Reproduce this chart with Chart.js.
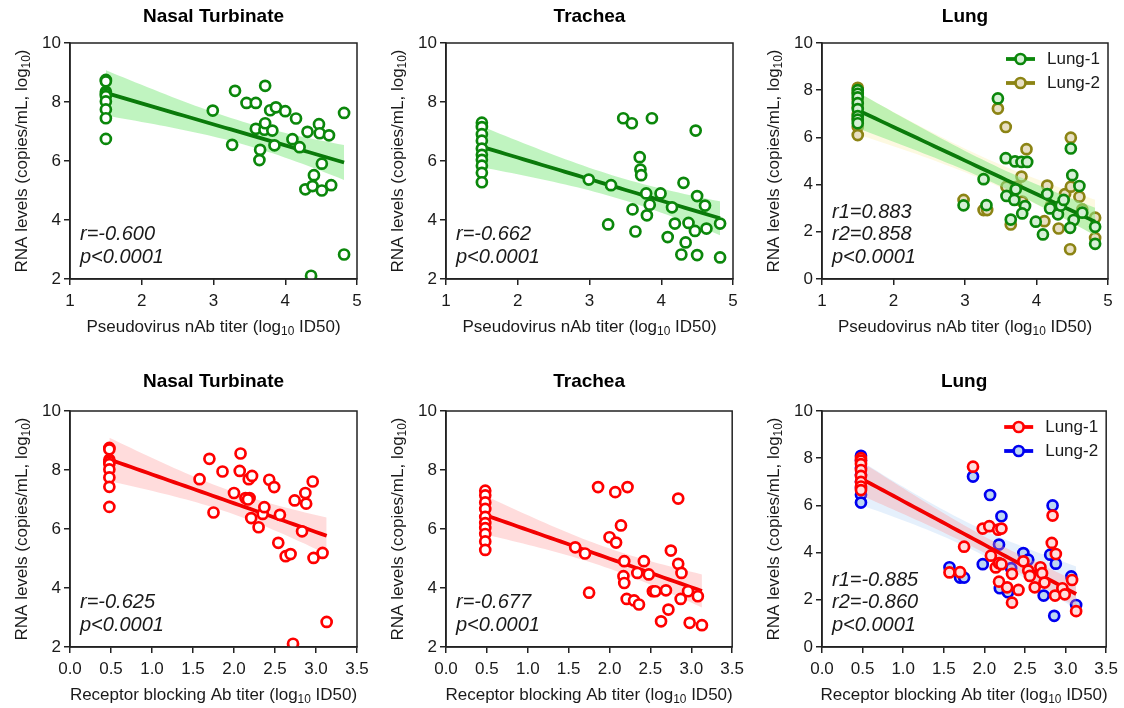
<!DOCTYPE html>
<html>
<head>
<meta charset="utf-8">
<script src="https://cdn.jsdelivr.net/npm/chart.js@4.4.1/dist/chart.umd.min.js"></script>
<style>
  html, body { margin: 0; padding: 0; background: #fff; }
  #wrap { position: relative; width: 1124px; height: 708px; overflow: hidden; }
  #wrap canvas { position: absolute; }
</style>
</head>
<body>
<div id="wrap"></div>
<script>
// ---- data ----
// top row: pseudovirus nAb titer (log10 ID50)
const ntNabX = [1.5, 1.5, 1.5, 1.5, 1.5, 1.5, 1.5, 1.5, 1.5,
    2.99, 3.26, 3.30, 3.46, 3.59, 3.72, 3.59, 3.71, 3.72, 3.82, 3.79, 3.87, 4.00, 3.65, 3.64, 3.85,
    4.15, 4.10, 4.20, 4.31, 4.47, 4.48, 4.61, 4.82, 4.51, 4.40, 4.28, 4.38, 4.51, 4.64, 4.82, 4.36];
const ntNabY = [8.75, 8.70, 8.35, 8.28, 8.20, 8.02, 7.75, 7.45, 6.75,
    7.71, 6.55, 8.38, 7.97, 7.97, 8.55, 7.09, 7.06, 7.28, 7.03, 7.72, 7.82, 7.69, 6.38, 6.03, 6.53,
    7.44, 6.74, 6.47, 6.99, 7.25, 6.94, 6.87, 7.63, 5.91, 5.52, 5.04, 5.15, 5.00, 5.18, 2.83, 2.11];

const trNabX = [1.5, 1.5, 1.5, 1.5, 1.5, 1.5, 1.5, 1.5, 1.5, 1.5,
    2.99, 3.30, 3.47, 3.59, 3.87, 4.48, 3.70, 3.71, 3.72, 3.79, 3.99, 3.84, 3.80, 3.60, 3.26,
    3.64, 4.15, 4.31, 4.50, 4.61, 4.19, 4.38, 4.47, 4.63, 4.82, 4.09, 4.34, 4.28, 4.50, 4.82];
const trNabY = [7.30, 7.15, 6.91, 6.69, 6.42, 6.21, 6.04, 5.84, 5.60, 5.28,
    5.37, 5.18, 7.45, 7.28, 7.45, 7.03, 6.13, 5.71, 5.52, 4.90, 4.90, 4.52, 4.16, 4.36, 3.85,
    3.61, 4.43, 5.26, 4.81, 4.49, 3.88, 3.90, 3.63, 3.71, 3.88, 3.42, 3.24, 2.83, 2.81, 2.73];

const lung1NabX = [1.5, 1.5, 1.5, 1.5, 1.5, 1.5, 1.5, 1.5,
    3.46, 3.57, 3.70, 3.79, 3.87, 4.48, 3.26, 2.98, 3.30, 3.58, 3.71, 3.69, 3.84, 3.80, 3.64,
    3.99, 4.09, 4.15, 4.19, 4.30, 4.34, 4.38, 4.50, 4.60, 4.64, 4.52, 4.47, 4.82, 4.82];
const lung1NabY = [8.00, 7.85, 7.70, 7.45, 7.20, 6.90, 6.75, 6.60,
    7.65, 5.12, 4.98, 4.96, 4.96, 5.53, 4.23, 3.12, 3.13, 3.52, 3.80, 3.35, 3.09, 2.78, 2.52,
    2.43, 1.89, 3.60, 2.99, 2.74, 3.11, 3.35, 4.40, 3.94, 2.81, 2.50, 2.17, 2.21, 1.49];

const lung2NabX = [1.5, 1.5, 1.5, 1.5, 1.5, 1.5, 1.5, 1.5,
    3.46, 3.57, 3.86, 4.48, 2.98, 3.26, 3.31, 3.79, 3.58, 3.64, 3.80, 3.72, 4.15, 4.11,
    4.40, 4.48, 4.60, 4.31, 4.47, 4.64, 4.82, 4.82, 4.20];
const lung2NabY = [8.10, 7.90, 7.60, 7.30, 7.00, 6.80, 6.45, 6.10,
    7.22, 6.44, 5.50, 5.99, 3.35, 2.92, 2.92, 4.34, 3.91, 2.31, 3.28, 3.90, 3.96, 2.45,
    3.60, 3.91, 3.49, 2.14, 1.26, 2.95, 2.60, 1.74, 3.10];

// bottom row: receptor blocking Ab titer (log10 ID50)
const ntRbX = [0.48, 0.48, 0.48, 0.48, 0.48, 0.48, 0.48, 0.48, 0.48,
    1.58, 1.70, 1.75, 1.86, 2.00, 2.08, 2.07, 2.18, 2.22, 2.14, 2.19, 2.17, 2.21, 2.30, 2.35, 2.37,
    2.43, 2.49, 2.56, 2.54, 2.63, 2.69, 2.74, 2.87, 2.88, 2.83, 2.96, 2.97, 3.08, 3.13, 2.72];
const ntRbY = [8.75, 8.70, 8.35, 8.28, 8.20, 8.02, 7.75, 7.43, 6.75,
    7.69, 8.38, 6.56, 7.95, 7.22, 8.56, 7.97, 7.69, 7.80, 7.05, 7.05, 7.00, 6.37, 6.06, 6.51, 6.74,
    7.67, 7.42, 6.48, 5.53, 5.08, 5.15, 6.97, 7.22, 6.86, 5.92, 7.61, 5.02, 5.19, 2.85, 2.11];

const trRbX = [0.48, 0.48, 0.48, 0.48, 0.48, 0.48, 0.48, 0.48, 0.48, 0.48,
    1.58, 1.70, 1.75, 1.86, 2.07, 2.22, 2.00, 2.08, 2.14, 2.18, 2.17, 2.18, 2.21, 2.30, 2.36, 2.34,
    2.42, 2.48, 2.53, 2.56, 2.63, 2.69, 2.72, 2.75, 2.84, 2.84, 2.88, 2.87, 2.96, 3.08, 2.98, 3.13];
const trRbY = [7.30, 7.14, 6.90, 6.68, 6.41, 6.20, 6.03, 5.83, 5.58, 5.29,
    5.38, 5.17, 3.84, 7.42, 7.25, 7.42, 5.72, 5.54, 6.12, 4.91, 4.40, 4.17, 3.63, 3.58, 3.44, 4.51,
    4.91, 4.46, 3.89, 3.89, 2.87, 3.92, 3.27, 5.27, 7.03, 4.82, 4.51, 3.63, 3.89, 3.72, 2.82, 2.74];

const lung1RbX = [0.48, 0.48, 0.48, 0.48, 0.48, 0.48, 0.48, 0.48,
    1.86, 1.75, 1.57, 1.70, 1.98, 2.06, 2.17, 2.21, 2.08, 2.14, 2.18, 2.21, 2.18, 2.28, 2.34, 2.34,
    2.42, 2.48, 2.54, 2.56, 2.62, 2.69, 2.71, 2.74, 2.84, 2.83, 2.88, 2.87, 2.96, 3.08, 3.13, 2.99];
const lung1RbY = [8.00, 7.90, 7.75, 7.50, 7.25, 7.00, 6.80, 6.65,
    7.64, 4.25, 3.16, 3.17, 5.02, 5.12, 4.97, 5.02, 3.87, 3.37, 3.55, 3.51, 2.77, 2.53, 3.10, 1.88,
    2.42, 3.63, 3.24, 3.01, 2.53, 3.38, 3.13, 2.73, 5.57, 4.41, 3.94, 2.18, 2.49, 2.84, 1.52, 2.23];

const lung2RbX = [0.48, 0.48, 0.48, 0.48, 0.48, 0.48, 0.48, 0.48,
    1.86, 2.07, 2.21, 2.84, 1.57, 1.70, 1.75, 1.98, 2.18, 2.19, 2.29, 2.33,
    2.48, 2.54, 2.73, 2.81, 2.88, 2.86, 3.07, 3.13];
const lung2RbY = [8.10, 7.90, 7.60, 7.30, 7.00, 6.75, 6.45, 6.12,
    7.22, 6.44, 5.54, 6.00, 3.38, 2.94, 2.94, 3.51, 4.34, 2.49, 2.32, 3.34,
    3.98, 3.70, 2.18, 3.91, 3.53, 1.32, 2.99, 1.78];

const panelTitles = ['Nasal Turbinate', 'Trachea', 'Lung'];
const statsText = [
    ['r=-0.600', 'p<0.0001'],
    ['r=-0.662', 'p<0.0001'],
    ['r1=0.883', 'r2=0.858', 'p<0.0001'],
    ['r=-0.625', 'p<0.0001'],
    ['r=-0.677', 'p<0.0001'],
    ['r1=-0.885', 'r2=-0.860', 'p<0.0001'],
];
const topXTitle = 'Pseudovirus nAb titer (log_10_ ID50)';
const bottomXTitle = 'Receptor blocking Ab titer (log_10_ ID50)';
const yTitle = 'RNA levels (copies/mL, log_10_)';

// ---- styles ----
const FONT = '"Liberation Sans", Arial, Helvetica, sans-serif';
const TEXT = '#1a1a1a';
const GREEN = {stroke: '#0b870b', fill: '#ffffff', line: '#0a7a0a', band: 'rgba(140,235,140,0.55)'};
const GREEN_L = {stroke: '#0b870b', fill: '#d6f0d6', line: '#0a7a0a', band: 'rgba(140,235,140,0.55)'};
const OLIVE = {stroke: '#8c8414', fill: '#e8e0c4', line: null, band: 'rgba(250,238,170,0.35)'};
const RED = {stroke: '#ff0000', fill: '#ffffff', line: '#f20000', band: 'rgba(255,150,150,0.33)'};
const RED_L = {stroke: '#ff0000', fill: '#ffdede', line: '#f20000', band: 'rgba(255,150,150,0.33)'};
const BLUE = {stroke: '#0000f0', fill: '#bcd6f2', line: null, band: 'rgba(170,205,245,0.3)'};

function tCrit(df) {
    return 1.96 + 2.37 / df + 2.8 / (df * df);
}

// least squares fit with 95% confidence band of the mean
function regression(xs, ys) {
    const n = xs.length;
    const mx = xs.reduce((s, v) => s + v, 0) / n;
    const my = ys.reduce((s, v) => s + v, 0) / n;
    let sxx = 0, sxy = 0;
    for (let i = 0; i < n; i++) {
        sxx += (xs[i] - mx) ** 2;
        sxy += (xs[i] - mx) * (ys[i] - my);
    }
    const b = sxy / sxx, a = my - b * mx;
    let sse = 0;
    for (let i = 0; i < n; i++) sse += (ys[i] - a - b * xs[i]) ** 2;
    const s = Math.sqrt(sse / (n - 2)), t = tCrit(n - 2);
    const lo = Math.min(...xs), hi = Math.max(...xs);
    const line = [], upper = [], lower = [];
    for (let k = 0; k <= 40; k++) {
        const x = lo + (hi - lo) * k / 40;
        const yh = a + b * x;
        const h = t * s * Math.sqrt(1 / n + (x - mx) ** 2 / sxx);
        line.push({x, y: yh});
        upper.push({x, y: yh + h});
        lower.push({x, y: yh - h});
    }
    return {line, upper, lower};
}

function seriesDatasets(xs, ys, style, label, base) {
    const fit = regression(xs, ys);
    const pts = xs.map((x, i) => ({x, y: ys[i]}));
    const sets = [
        {data: fit.lower, showLine: true, pointRadius: 0, borderWidth: 0, fill: false,
            backgroundColor: style.band, order: base + 3},
        {data: fit.upper, showLine: true, pointRadius: 0, borderWidth: 0, fill: '-1',
            backgroundColor: style.band, order: base + 3},
    ];
    if (style.line) {
        sets.push({data: fit.line, showLine: true, pointRadius: 0, borderWidth: 3.8,
            borderColor: style.line, order: base + 2});
    }
    sets.push({label, data: pts, pointRadius: 5, pointBorderWidth: 2.7,
        pointBorderColor: style.stroke, pointBackgroundColor: style.fill, order: base + 1,
        legendStyle: style});
    return sets;
}

function richText(ctx, text, x, y, size) {
    const parts = text.split('_');
    let w = 0;
    parts.forEach((p, i) => {
        ctx.font = `${i % 2 ? size * 0.7 : size}px ${FONT}`;
        w += ctx.measureText(p).width;
    });
    let cx = x - w / 2;
    ctx.textAlign = 'left';
    ctx.textBaseline = 'middle';
    parts.forEach((p, i) => {
        const sub = i % 2 === 1;
        ctx.font = `${sub ? size * 0.7 : size}px ${FONT}`;
        ctx.fillText(p, cx, y + (sub ? size * 0.3 : 0));
        cx += ctx.measureText(p).width;
    });
}

const decorPlugin = {
    id: 'decor',
    afterDraw(chart, args, o) {
        const {ctx, chartArea: a} = chart;
        ctx.save();
        ctx.strokeStyle = '#222';
        ctx.lineWidth = 1.5;
        ctx.strokeRect(a.left, a.top, a.right - a.left, a.bottom - a.top);

        ctx.fillStyle = '#000';
        ctx.font = `bold 19px ${FONT}`;
        ctx.textAlign = 'center';
        ctx.textBaseline = 'middle';
        ctx.fillText(o.title, (a.left + a.right) / 2, a.top - o.titleGap);

        ctx.fillStyle = TEXT;
        richText(ctx, o.xTitle, (a.left + a.right) / 2, a.bottom + 48, 17);
        ctx.save();
        ctx.translate(a.left - 48, (a.top + a.bottom) / 2);
        ctx.rotate(-Math.PI / 2);
        richText(ctx, yTitle, 0, 0, 17);
        ctx.restore();

        ctx.font = `italic 20px ${FONT}`;
        ctx.textAlign = 'left';
        ctx.textBaseline = 'middle';
        const lines = o.stats;
        lines.forEach((s, i) => {
            ctx.fillText(s, a.left + 10, a.bottom - 22 - (lines.length - 1 - i) * 22.5);
        });

        if (o.legend) {
            const metas = chart.data.datasets.filter(d => d.label);
            metas.forEach((d, i) => {
                const st = d.legendStyle;
                const y = a.top + 16 + i * 24;
                ctx.strokeStyle = st.stroke;
                ctx.lineWidth = 3.8;
                ctx.beginPath();
                ctx.moveTo(a.right - 102, y);
                ctx.lineTo(a.right - 73, y);
                ctx.stroke();
                ctx.beginPath();
                ctx.arc(a.right - 87.5, y, 5, 0, Math.PI * 2);
                ctx.fillStyle = st.fill;
                ctx.fill();
                ctx.lineWidth = 2.7;
                ctx.stroke();
                ctx.fillStyle = TEXT;
                ctx.font = `17px ${FONT}`;
                ctx.fillText(d.label, a.right - 61, y);
            });
        }
        ctx.restore();
    }
};

const cols = [
    {left: 0, width: 375, yw: 70, padR: 18},
    {left: 375, width: 375, yw: 71, padR: 17},
    {left: 750, width: 374, yw: 72, padR: 16},
];
const rows = [
    {top: 0, height: 345, padT: 43, xh: 66, xMin: 1, xMax: 5, xStep: 1, xTitle: topXTitle, titleGap: 26},
    {top: 365, height: 343, padT: 46, xh: 61, xMin: 0, xMax: 3.5, xStep: 0.5, xTitle: bottomXTitle, titleGap: 29},
];

const panels = [
    {row: 0, col: 0, series: [[ntNabX, ntNabY, GREEN]]},
    {row: 0, col: 1, series: [[trNabX, trNabY, GREEN]]},
    {row: 0, col: 2, yMin: 0, series: [[lung1NabX, lung1NabY, GREEN_L, 'Lung-1'], [lung2NabX, lung2NabY, OLIVE, 'Lung-2']]},
    {row: 1, col: 0, series: [[ntRbX, ntRbY, RED]]},
    {row: 1, col: 1, series: [[trRbX, trRbY, RED]]},
    {row: 1, col: 2, yMin: 0, series: [[lung1RbX, lung1RbY, RED_L, 'Lung-1'], [lung2RbX, lung2RbY, BLUE, 'Lung-2']]},
];

const wrap = document.getElementById('wrap');
panels.forEach((p, idx) => {
    const r = rows[p.row], c = cols[p.col];
    const canvas = document.createElement('canvas');
    canvas.width = c.width;
    canvas.height = r.height;
    canvas.style.left = c.left + 'px';
    canvas.style.top = r.top + 'px';
    wrap.appendChild(canvas);

    let datasets = [];
    p.series.forEach((s, i) => {
        datasets = datasets.concat(seriesDatasets(s[0], s[1], s[2], s[3], i * 4));
    });
    const multi = p.series.length > 1;
    const tickFont = {family: FONT, size: 17};

    new Chart(canvas, {
        type: 'scatter',
        data: {datasets},
        plugins: [decorPlugin],
        options: {
            responsive: false,
            animation: false,
            events: [],
            layout: {padding: {left: 0, right: c.padR, top: r.padT, bottom: 0}},
            plugins: {
                legend: {display: false},
                tooltip: {enabled: false},
                decor: {
                    title: panelTitles[p.col], titleGap: r.titleGap, xTitle: r.xTitle,
                    stats: statsText[idx], legend: multi
                }
            },
            scales: {
                x: {
                    type: 'linear', min: r.xMin, max: r.xMax,
                    grid: {drawOnChartArea: false, drawTicks: true, tickLength: 6, color: '#222', lineWidth: 1.5},
                    border: {display: true, color: '#222', width: 1.5},
                    ticks: {
                        stepSize: r.xStep, color: TEXT, font: tickFont, padding: 6, maxRotation: 0,
                        callback: v => r.xStep < 1 ? v.toFixed(1) : String(v)
                    },
                    afterFit: s => { s.height = r.xh; }
                },
                y: {
                    type: 'linear', min: p.yMin !== undefined ? p.yMin : 2, max: 10,
                    grid: {drawOnChartArea: false, drawTicks: true, tickLength: 6, color: '#222', lineWidth: 1.5},
                    border: {display: true, color: '#222', width: 1.5},
                    ticks: {stepSize: 2, color: TEXT, font: tickFont, padding: 3},
                    afterFit: s => { s.width = c.yw; }
                }
            }
        }
    });
});
</script>
</body>
</html>
